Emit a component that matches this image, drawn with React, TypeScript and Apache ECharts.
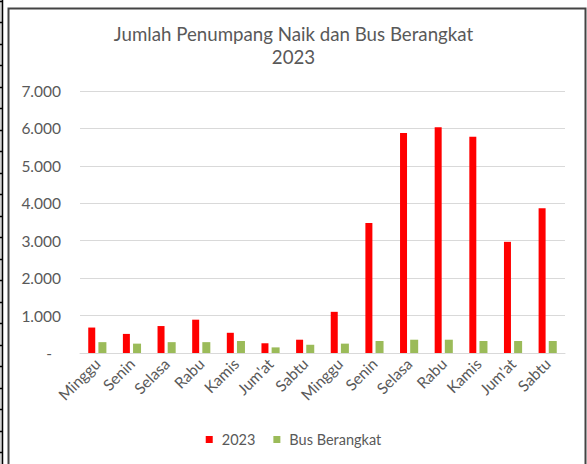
import React, { useEffect, useRef } from "react";
import * as echarts from "echarts";

const categories = ["Minggu", "Senin", "Selasa", "Rabu", "Kamis", "Jum'at", "Sabtu", "Minggu", "Senin", "Selasa", "Rabu", "Kamis", "Jum'at", "Sabtu"];
const penumpang2023 = [680, 510, 720, 890, 540, 260, 355, 1100, 3470, 5880, 6030, 5780, 2970, 3870];
const busBerangkat = [290, 250, 290, 290, 320, 150, 220, 250, 320, 355, 355, 320, 320, 320];
const titleLines = ["Jumlah Penumpang Naik dan Bus Berangkat", "2023"];
const seriesNames = ["2023", "Bus Berangkat"];

const FONT = "Lato, 'Open Sans', sans-serif";
const GRAY = "#595959";

export default function App() {
  const ref = useRef<HTMLDivElement>(null);
  useEffect(() => {
    if (!ref.current) return;
    const chart = echarts.init(ref.current, null, { renderer: "svg" });
    const ticks: any[] = [];
    for (let k = -3; k < 19; k++) {
      const y = Math.round(65 + 21.5 * k) + 0.5;
      ticks.push({ type: "line", shape: { x1: 0, y1: y, x2: 3, y2: y }, style: { stroke: "#000", lineWidth: 1.5 } });
    }
    chart.setOption({
      animation: false,
      backgroundColor: "#ffffff",
      textStyle: { fontFamily: FONT },
      title: {
        text: titleLines.join("\n"),
        left: "center",
        top: 17,
        padding: [5, 5, 5, 13],
        textStyle: { fontFamily: FONT, fontSize: 18.7, fontWeight: "normal", color: GRAY, lineHeight: 23 },
      },
      legend: {
        bottom: 12,
        left: "center",
        itemWidth: 7,
        itemHeight: 7,
        itemGap: 18,
        icon: "rect",
        textStyle: { fontFamily: FONT, fontSize: 14.5, color: GRAY, padding: [0, 0, 0, 4] },
      },
      grid: { left: 80, width: 485, top: 91, height: 262 },
      xAxis: {
        type: "category",
        data: categories,
        axisLine: { lineStyle: { color: "#d9d9d9" } },
        axisTick: { show: false },
        axisLabel: { rotate: 45, fontFamily: FONT, fontSize: 15.5, color: GRAY, margin: 8, interval: 0 },
      },
      yAxis: {
        type: "value",
        min: 0,
        max: 7000,
        interval: 1000,
        axisLine: { show: false },
        axisTick: { show: false },
        splitLine: { lineStyle: { color: "#d9d9d9" } },
        axisLabel: {
          fontFamily: FONT,
          fontSize: 15.5,
          color: GRAY,
          margin: 19,
          formatter: (v: number) => (v === 0 ? "{d|-}" : v.toLocaleString("de-DE")),
          rich: { d: { fontFamily: FONT, fontSize: 15.5, color: GRAY, padding: [0, 9, 0, 0] } },
        },
      },
      series: [
        { name: seriesNames[0], type: "bar", data: penumpang2023, barWidth: 7, barGap: "45%", itemStyle: { color: "#FF0000" } },
        { name: seriesNames[1], type: "bar", data: busBerangkat, barWidth: 8, itemStyle: { color: "#9BBB59" } },
      ],
      graphic: [
        { type: "rect", shape: { x: 0, y: 0, width: 2, height: 464 }, style: { fill: "#d4d4d4" } },
        { type: "line", shape: { x1: 2.5, y1: 0, x2: 2.5, y2: 464 }, style: { stroke: "#000", lineWidth: 1.5 } },
        ...ticks,
        { type: "rect", shape: { x: 8.5, y: 8.5, width: 577, height: 470 }, style: { fill: "none", stroke: "#444", lineWidth: 2 } },
      ],
    });
    return () => chart.dispose();
  }, []);
  return <div ref={ref} style={{ position: "fixed", left: 0, top: 0, width: 587, height: 464 }} />;
}
